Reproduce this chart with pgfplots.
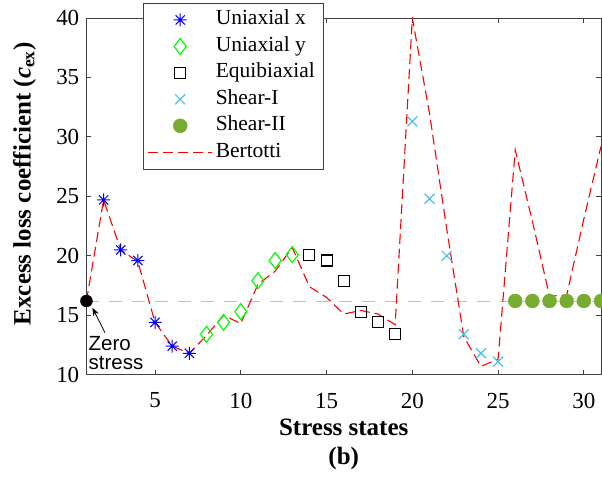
\documentclass[border=0pt]{standalone}
\usepackage{fontspec}
\setmainfont{Liberation Serif}
\setsansfont{Liberation Sans}
\usepackage{pgfplots}
\pgfplotsset{compat=1.18}
\usetikzlibrary{arrows.meta}

\definecolor{shearone}{RGB}{77,190,238}
\definecolor{sheartwo}{RGB}{119,172,48}
\definecolor{unigreen}{RGB}{0,255,0}

% eight-armed asterisk like MATLAB's '*'
\pgfdeclareplotmark{matstar}{%
  \pgfpathmoveto{\pgfqpoint{-\pgfplotmarksize}{0pt}}\pgfpathlineto{\pgfqpoint{\pgfplotmarksize}{0pt}}%
  \pgfpathmoveto{\pgfqpoint{0pt}{-\pgfplotmarksize}}\pgfpathlineto{\pgfqpoint{0pt}{\pgfplotmarksize}}%
  \pgfpathmoveto{\pgfqpoint{-.7071\pgfplotmarksize}{-.7071\pgfplotmarksize}}\pgfpathlineto{\pgfqpoint{.7071\pgfplotmarksize}{.7071\pgfplotmarksize}}%
  \pgfpathmoveto{\pgfqpoint{-.7071\pgfplotmarksize}{.7071\pgfplotmarksize}}\pgfpathlineto{\pgfqpoint{.7071\pgfplotmarksize}{-.7071\pgfplotmarksize}}%
  \pgfusepathqstroke}

\begin{document}
\begin{tikzpicture}
\begin{axis}[
    name=ax,
    scale only axis,
    width=515pt, height=357pt,
    xmin=1, xmax=31, ymin=10, ymax=40,
    xtick={5,10,...,30}, ytick={10,15,...,40},
    tick align=inside, major tick length=5pt,
    axis line style={black!75, line width=0.8pt},
    every tick/.style={black!75, line width=0.8pt},
    tick label style={font=\fontsize{23}{26}\selectfont},
    /pgf/number format/assume math mode=true,
    xticklabel style={inner sep=0pt, anchor=north, yshift=-18pt},
    yticklabel style={inner sep=0pt, anchor=east, xshift=-7pt},
    xlabel={Stress states\\(b)},
    xlabel style={at={(axis description cs:0.5,-0.123)}, anchor=north, inner sep=0pt,
        align=center, font=\bfseries\fontsize{25}{29}\selectfont},
    ylabel={Excess loss coefficient (\textit{c}\textsubscript{ex})},
    ylabel style={at={(axis description cs:-0.1204,0.535)}, anchor=center, inner sep=0pt,
        font=\bfseries\fontsize{25}{29}\selectfont},
    legend cell align=left,
    legend style={at={(0.109,1.042)}, anchor=north west, draw=black!75, fill=white,
        font=\fontsize{21.5}{24}\selectfont, inner xsep=5pt, inner ysep=3.5pt,
        nodes={inner xsep=3pt, inner ysep=2pt, text height=16pt, text depth=6.5pt}},
    legend image code/.code={\draw[mark repeat=2,mark phase=2,#1] plot coordinates {(0pt,0pt) (32pt,0pt) (64pt,0pt)};},
]
% zero-stress reference level
\addplot[gray!50, line width=0.8pt, dash pattern=on 13pt off 10pt, forget plot]
    coordinates {(1,16.2) (31,16.2)};

\addplot[only marks, blue, mark=matstar, mark size=6.5pt, line width=1pt] coordinates {
    (2,24.7) (3,20.5) (4,19.6) (5,14.4) (6,12.4) (7,11.8)};
\addplot[only marks, unigreen, mark=diamond, mark size=8pt, line width=1.2pt] coordinates {
    (8,13.4) (9,14.4) (10,15.3) (11,17.9) (12,19.6) (13,20.1)};
\addplot[only marks, black, mark=square, mark size=5.5pt, line width=1.1pt] coordinates {
    (14,20.1) (15,19.6) (16,17.9) (17,15.3) (18,14.4) (19,13.4)};
\addplot[only marks, shearone, mark=x, mark size=7pt, line width=1.2pt] coordinates {
    (20,31.3) (21,24.8) (22,20.0) (23,13.4) (24,11.8) (25,11.1)};
\addplot[only marks, sheartwo, mark=*, mark size=7pt] coordinates {
    (26,16.2) (27,16.2) (28,16.2) (29,16.2) (30,16.2) (31,16.2)};
\addplot[red, line width=1.1pt, dash pattern=on 10pt off 5pt, mark=none] coordinates {
    (1,16.2) (2,24.7) (3,20.5) (4,19.5) (5,14.4) (6,12.4) (7,11.8) (8,13.3)
    (9,15.0) (10,14.3) (11,17.6) (12,18.7) (13,20.7) (14,17.4) (15,16.5) (16,15.1)
    (17,15.4) (18,15.1) (19,14.2) (20,40.0) (21,32.0) (22,22.3) (23,13.2) (24,10.7)
    (25,11.3) (26,28.9) (27,22.9) (28,16.6) (29,16.7) (30,23.1) (31,29.2)};

\addplot[only marks, black, mark=*, mark size=6pt, forget plot] coordinates {(1,16.2)};

\legend{Uniaxial x, Uniaxial y, Equibiaxial, Shear-I, Shear-II, Bertotti}

\node[anchor=north west, inner sep=0pt, align=left, font=\sffamily\fontsize{20.5}{19}\selectfont]
    at (axis cs:1.12,13.25) {Zero\\stress};
\draw[-{Stealth[length=8pt,width=6pt]}, line width=0.8pt]
    (axis cs:2.08,13.53) -- (axis cs:1.35,15.63);
\end{axis}
\pgfresetboundingbox
\path ([xshift=-86.5pt,yshift=-105pt]ax.south west) rectangle ([xshift=1pt,yshift=18pt]ax.north east);
\end{tikzpicture}
\end{document}
